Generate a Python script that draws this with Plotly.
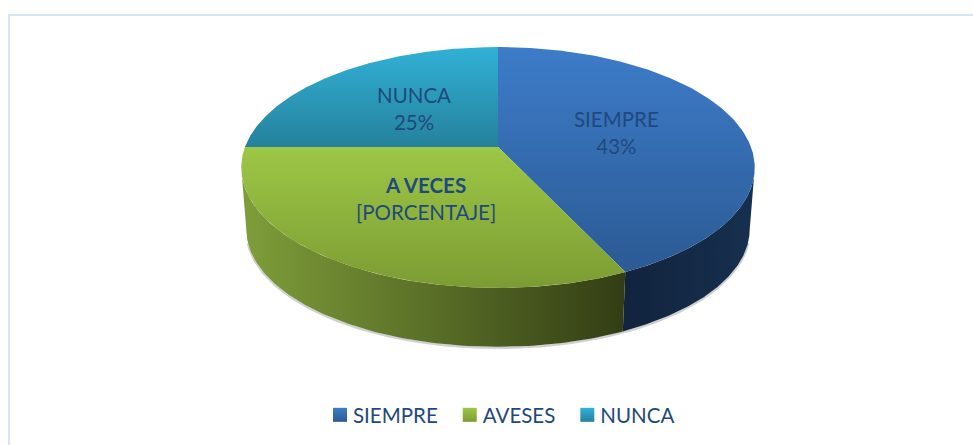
import numpy as np
import plotly.graph_objects as go

# Data
categories = ["SIEMPRE", "A VECES", "NUNCA"]
legend_labels = ["SIEMPRE", "AVESES", "NUNCA"]
percent_values = [43, 32, 25]
slice_labels = ["SIEMPRE<br>43%", "<b>A VECES</b><br>[PORCENTAJE]", "NUNCA<br>25%"]

# Style and projection of the tilted disc (pixels of the page)
W, H = 973, 445
CX, P = 498, 0.17
TOP = dict(cy=147, a=253, b=117)
BOT = dict(cy=209.5, a=248, b=114)
RIGHT_TANGENT, LEFT_TANGENT = 100.0, 260.0
TEXT = "#1F497D"
FONT = "Lato, Carlito, sans-serif"
top_grad = [("#3D7CC9", "#2B5A94", 47, 272), ("#9DC746", "#7C9C33", 147, 288), ("#31B1D6", "#25819C", 47, 147)]
side_grad = [
    [[0, "#12233D"], [1, "#16304F"]],
    [[0, "#7F9E3A"], [0.45, "#5D7329"], [1, "#333D14"]],
]
legend_cols = [("#3D7CC9", "#2B5A94"), ("#9DC746", "#7C9C33"), ("#31B1D6", "#25819C")]


def project(deg, disc):
    t = np.radians(deg)
    u, v = np.sin(t), -np.cos(t)
    w = 1 / (1 - P * v)
    return CX + disc["a"] * u * w, disc["cy"] + disc["b"] * v * w


edges = np.concatenate([[0], np.cumsum(percent_values) * 3.6])
fig = go.Figure()

# soft shadow under the side wall
ts = np.linspace(RIGHT_TANGENT + 6, LEFT_TANGENT - 6, 120)
sx, sy = project(ts, BOT)
fig.add_trace(go.Scatter(x=sx, y=sy + 1, mode="lines", line=dict(color="rgba(120,120,120,0.35)", width=2.5),
                         showlegend=False, hoverinfo="skip"))

# side walls
for i in range(2):
    a0, a1 = max(edges[i], RIGHT_TANGENT), min(edges[i + 1], LEFT_TANGENT)
    ts = np.linspace(a0, a1, 120)
    x0, y0 = project(ts, TOP)
    x1, y1 = project(ts[::-1], BOT)
    xs = np.concatenate([x0, x1, x0[:1]])
    ys = np.concatenate([y0, y1, y0[:1]])
    fig.add_trace(go.Scatter(
        x=xs, y=ys, mode="lines", line=dict(width=0), fill="toself",
        fillgradient=dict(type="horizontal", colorscale=side_grad[i], start=xs.min(), stop=xs.max()),
        showlegend=False, hoverinfo="skip"))

# top faces
for i in range(3):
    ts = np.linspace(edges[i], edges[i + 1], 200)
    ax, ay = project(ts, TOP)
    cx0, cy0 = CX, TOP["cy"]
    xs = np.concatenate([[cx0], ax, [cx0]])
    ys = np.concatenate([[cy0], ay, [cy0]])
    c0, c1, y_a, y_b = top_grad[i]
    fig.add_trace(go.Scatter(
        x=xs, y=ys, mode="lines", line=dict(width=0), fill="toself",
        fillgradient=dict(type="vertical", colorscale=[[0, c1], [1, c0]], start=y_b, stop=y_a),
        showlegend=False, hoverinfo="skip"))

# legend
for name, (c0, c1) in zip(legend_labels, legend_cols):
    fig.add_trace(go.Scatter(
        x=[None], y=[None], mode="markers", name=name,
        marker=dict(symbol="square", size=14, color=c0, gradient=dict(type="vertical", color=c1))))

label_pos = [(616, 132), (426, 198), (414, 108)]
for txt, (lx, ly) in zip(slice_labels, label_pos):
    fig.add_annotation(x=lx, y=ly, text=txt, showarrow=False, xref="x", yref="y",
                       font=dict(family=FONT, size=20.5, color=TEXT), align="center")

frame = "#D6E4F5"
fig.add_shape(type="line", xref="x", yref="y", x0=8, x1=W, y0=15, y1=15, line=dict(color=frame, width=2))
fig.add_shape(type="line", xref="x", yref="y", x0=9, x1=9, y0=14, y1=H, line=dict(color=frame, width=2))

fig.update_layout(
    width=W, height=H, margin=dict(l=0, r=0, t=0, b=0),
    paper_bgcolor="white", plot_bgcolor="white",
    xaxis=dict(range=[0, W], visible=False, fixedrange=True),
    yaxis=dict(range=[H, 0], visible=False, fixedrange=True),
    font=dict(family=FONT, size=20.5, color=TEXT),
    legend=dict(orientation="h", x=496.5 / W, xanchor="center", y=1 - 415 / H, yanchor="middle",
                bgcolor="rgba(0,0,0,0)", itemwidth=30, font=dict(family=FONT, size=20.5, color=TEXT)),
)
post = """
document.body.style.margin = '0';
document.documentElement.style.overflow = 'hidden';
document.querySelectorAll('.legendpoints').forEach(function (g) {
    g.setAttribute('transform', 'translate(7,0)');
});
"""
fig.write_html("out.html", post_script=post, config={"displayModeBar": False})
